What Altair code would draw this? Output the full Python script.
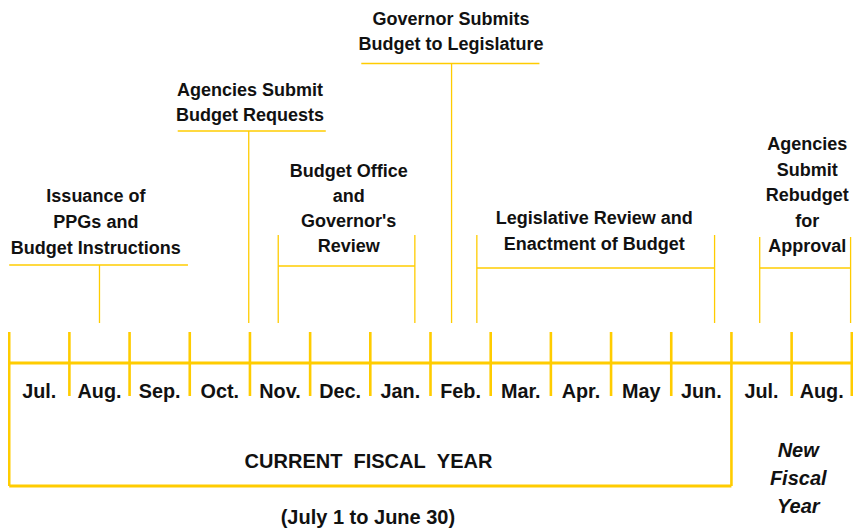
import altair as alt
import pandas as pd

# ---------------- data ----------------
months = ["Jul.", "Aug.", "Sep.", "Oct.", "Nov.", "Dec.", "Jan.", "Feb.",
          "Mar.", "Apr.", "May", "Jun.", "Jul.", "Aug."]
current_fy_len = 12          # Jul. .. Jun. form the current fiscal year

fy_title = "CURRENT\u00a0\u00a0FISCAL\u00a0\u00a0YEAR"
fy_sub = "(July 1 to June 30)"
new_fy = ["New", "Fiscal", "Year"]

ann_lines = [
    ["Issuance of", "PPGs and", "Budget Instructions"],
    ["Agencies Submit", "Budget Requests"],
    ["Budget Office", "and", "Governor's", "Review"],
    ["Governor Submits", "Budget to Legislature"],
    ["Legislative Review and", "Enactment of Budget"],
    ["Agencies", "Submit", "Rebudget", "for", "Approval"],
]
# time span of each step, in months from July 1
ann_start = [0.0, 2.8, 4.47, 5.85, 7.77, 12.47]
ann_end = [2.97, 5.26, 6.74, 8.81, 11.72, 13.98]
ann_point = [1.5, 3.98, None, 7.35, None, None]   # single-date steps
ann_center = [1.44, 4.0, 5.64, 7.34, 9.72, 13.26]

# ---------------- layout (rows, top to bottom) ----------------
ROW_AXIS = 363
ROW_TICK_TOP, ROW_TICK_BOT = 332, 396
ROW_BOX_BOT = 486
ROW_LEADER_BOT = 323
ann_bar_row = [265, 131, 266, 63.5, 268, 268]
ann_span_top = [None, None, 235, None, 235, 237]
ann_first_base = [201.5, 96, 177, 25, 224, 150]
ann_step = [26, 25, 25, 24.5, 26, 25.5]

FONT = "Liberation Sans, Arial, Helvetica, sans-serif"
GOLD = "#FFCC00"
INK = "#111111"
ANN_SIZE = 18

# thick timeline segments
thick = []
n = len(months)
thick.append(dict(x=0, x2=n, y=ROW_AXIS, y2=ROW_AXIS, w=3))
for b in range(n + 1):
    bot = ROW_BOX_BOT if b in (0, current_fy_len) else ROW_TICK_BOT
    thick.append(dict(x=b, x2=b, y=ROW_TICK_TOP, y2=bot, w=2.6))
thick.append(dict(x=0, x2=current_fy_len, y=ROW_BOX_BOT, y2=ROW_BOX_BOT, w=3))
thick_df = pd.DataFrame(thick)

# thin annotation brackets
thin = []
for i in range(len(ann_lines)):
    r = ann_bar_row[i]
    thin.append(dict(x=ann_start[i], x2=ann_end[i], y=r, y2=r))
    if ann_point[i] is not None:
        thin.append(dict(x=ann_point[i], x2=ann_point[i], y=r, y2=ROW_LEADER_BOT))
    else:
        for xx in (ann_start[i], ann_end[i]):
            thin.append(dict(x=xx, x2=xx, y=ann_span_top[i], y2=ROW_LEADER_BOT))
thin_df = pd.DataFrame(thin)

# texts
texts = []
for i, lines in enumerate(ann_lines):
    for k, t in enumerate(lines):
        texts.append(dict(x=ann_center[i], y=ann_first_base[i] + k * ann_step[i],
                          text=t, size=ANN_SIZE))
for i, m in enumerate(months):
    texts.append(dict(x=i + 0.5, y=398, text=m, size=19.8))
texts.append(dict(x=5.97, y=468, text=fy_title, size=20))
texts.append(dict(x=5.96, y=524, text=fy_sub, size=20))
text_df = pd.DataFrame(texts)

ital = [dict(x=13.11, y=457 + k * 28, text=t, size=20) for k, t in enumerate(new_fy)]
ital_df = pd.DataFrame(ital)

W, H = 845, 521
xs = alt.Scale(domain=[-0.02, 14.02], nice=False, zero=False)
ys = alt.Scale(domain=[8, 8 + H], nice=False, zero=False, reverse=True)
X = lambda: alt.X("x:Q", scale=xs, axis=None)
Y = lambda: alt.Y("y:Q", scale=ys, axis=None)

thick_layer = alt.Chart(thick_df).mark_rule(color=GOLD).encode(
    x=X(), x2="x2:Q", y=Y(), y2="y2:Q",
    strokeWidth=alt.StrokeWidth("w:Q", scale=None, legend=None))
thin_layer = alt.Chart(thin_df).mark_rule(color=GOLD, strokeWidth=1.3).encode(
    x=X(), x2="x2:Q", y=Y(), y2="y2:Q")
text_layer = alt.Chart(text_df).mark_text(
    align="center", baseline="alphabetic", font=FONT, fontWeight="bold", color=INK
).encode(x=X(), y=Y(), text="text:N", size=alt.Size("size:Q", scale=None, legend=None))
ital_layer = alt.Chart(ital_df).mark_text(
    align="center", baseline="alphabetic", font=FONT, fontWeight="bold",
    fontStyle="italic", color=INK
).encode(x=X(), y=Y(), text="text:N", size=alt.Size("size:Q", scale=None, legend=None))

chart = alt.layer(thin_layer, thick_layer, text_layer, ital_layer).properties(
    width=W, height=H, padding=0, autosize=alt.AutoSizeParams(type="none"),
    background="white"
).configure_view(stroke=None)

chart.save("out.html", embed_options={"renderer": "svg", "actions": False})
